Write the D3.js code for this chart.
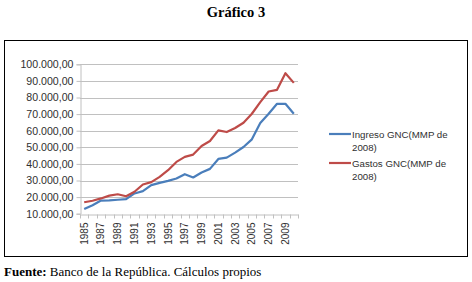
<!DOCTYPE html>
<html>
<head>
<meta charset="utf-8">
<script src="https://cdn.jsdelivr.net/npm/d3@7"></script>
<style>
    body { margin: 0; background: #fff; }
    svg { display: block; }
    .axis text { font-family: "Liberation Sans", Arial, sans-serif; font-size: 10px; fill: #303030; }
    .y-axis text { font-size: 10.6px; }
    .legend text { font-family: "Liberation Sans", Arial, sans-serif; font-size: 9.7px; fill: #303030; }
</style>
</head>
<body>
<div id="chart"></div>
<script>
// data (MMP de 2008)
const years = d3.range(1985, 2011);
const ingreso = [12800, 15100, 17900, 18000, 18400, 18800, 22200, 23600, 27200, 28600,
    29800, 31200, 33800, 31800, 34800, 37000, 43000, 43800, 46800, 50200,
    54800, 64600, 70200, 76200, 76200, 70200];
const gastos = [16900, 17800, 19200, 20900, 21700, 20500, 23200, 27600, 29000, 32200,
    36200, 41200, 44200, 45600, 50800, 53800, 60200, 59200, 61600, 64800,
    70200, 77200, 83600, 84600, 94600, 88800];
const yTicks = d3.range(10000, 100001, 10000);
const seriesNames = ["Ingreso GNC(MMP de 2008)", "Gastos GNC(MMP de 2008)"];
const colors = ["#4a7ebb", "#be4b48"];

const width = 472, height = 282;

let svg = d3.select("#chart").append("svg")
    .attr("width", width)
    .attr("height", height);

// title
svg.append("text")
    .attr("x", 236)
    .attr("y", 17)
    .attr("text-anchor", "middle")
    .style("font-family", "'Liberation Serif', 'Times New Roman', serif")
    .style("font-size", "14.5px")
    .style("font-weight", "bold")
    .text("Gráfico 3");

// frame
svg.append("rect")
    .attr("x", 4.5).attr("y", 40.5)
    .attr("width", 463).attr("height", 216)
    .attr("fill", "none")
    .attr("stroke", "#000")
    .attr("stroke-width", 1);

// scales
let x = d3.scaleBand()
    .domain(years)
    .range([80, 298]);

let y = d3.scaleLinear()
    .domain([10000, 100000])
    .range([213.7, 64.3]);

// gridlines
svg.append("g")
    .selectAll("line")
    .data(yTicks.slice(1))
    .enter().append("line")
    .attr("x1", 80).attr("x2", 298)
    .attr("y1", d => Math.round(y(d)) + 0.5)
    .attr("y2", d => Math.round(y(d)) + 0.5)
    .attr("stroke", "#c0c0c0")
    .attr("stroke-width", 1);

// y axis
let locale = d3.formatLocale({decimal: ",", thousands: ".", grouping: [3], currency: ["", ""]});
let yAxis = d3.axisLeft(y)
    .tickValues(yTicks)
    .tickFormat(locale.format(",.2f"))
    .tickSize(4)
    .tickPadding(3);

let yAxisGroup = svg.append("g")
    .attr("class", "axis y-axis")
    .attr("transform", "translate(80.5,0)")
    .call(yAxis);
yAxisGroup.select(".domain").attr("stroke", "#c0c0c0");
yAxisGroup.selectAll(".tick line").attr("stroke", "#c0c0c0");

// x axis: labels on odd years, ticks on category boundaries
let xAxis = d3.axisBottom(x)
    .tickValues(years.filter(d => d % 2 === 1))
    .tickSize(0)
    .tickPadding(0);

let xAxisGroup = svg.append("g")
    .attr("class", "axis")
    .attr("transform", `translate(0,${Math.round(y(10000)) + 0.5})`)
    .call(xAxis);
xAxisGroup.select(".domain").attr("stroke", "#c0c0c0");
xAxisGroup.selectAll(".tick text")
    .attr("transform", "rotate(-90)")
    .attr("text-anchor", "end")
    .attr("x", -8)
    .attr("y", 0)
    .attr("dy", "0.35em");

xAxisGroup.selectAll(".boundary")
    .data(years.concat([2011]))
    .enter().append("line")
    .attr("class", "boundary")
    .attr("x1", (d, i) => Math.round(80 + i * x.step()) + 0.5)
    .attr("x2", (d, i) => Math.round(80 + i * x.step()) + 0.5)
    .attr("y1", 0).attr("y2", 4)
    .attr("stroke", "#c0c0c0");

// lines
let line = d3.line()
    .x((d, i) => x(years[i]) + x.bandwidth() / 2)
    .y(d => y(d));

[ingreso, gastos].forEach((s, i) => {
    svg.append("path")
        .datum(s)
        .attr("fill", "none")
        .attr("stroke", colors[i])
        .attr("stroke-width", 2.2)
        .attr("stroke-linejoin", "round")
        .attr("d", line);
});

// legend
let legend = svg.append("g").attr("class", "legend");
let legendY = [134, 163];
seriesNames.forEach((name, i) => {
    legend.append("line")
        .attr("x1", 329).attr("x2", 351)
        .attr("y1", legendY[i]).attr("y2", legendY[i])
        .attr("stroke", colors[i])
        .attr("stroke-width", 2.2);
    let parts = [name.slice(0, name.indexOf("2008)")).trim(), "2008)"];
    legend.append("text")
        .attr("x", 352)
        .attr("y", legendY[i] + 3.5)
        .text(parts[0]);
    legend.append("text")
        .attr("x", 352)
        .attr("y", legendY[i] + 16.5)
        .text(parts[1]);
});

// source
let source = svg.append("text")
    .attr("x", 4)
    .attr("y", 276)
    .style("font-family", "'Liberation Serif', 'Times New Roman', serif")
    .style("font-size", "13px");
source.append("tspan").style("font-weight", "bold").text("Fuente:");
source.append("tspan").text(" Banco de la República. Cálculos propios");
</script>
</body>
</html>
